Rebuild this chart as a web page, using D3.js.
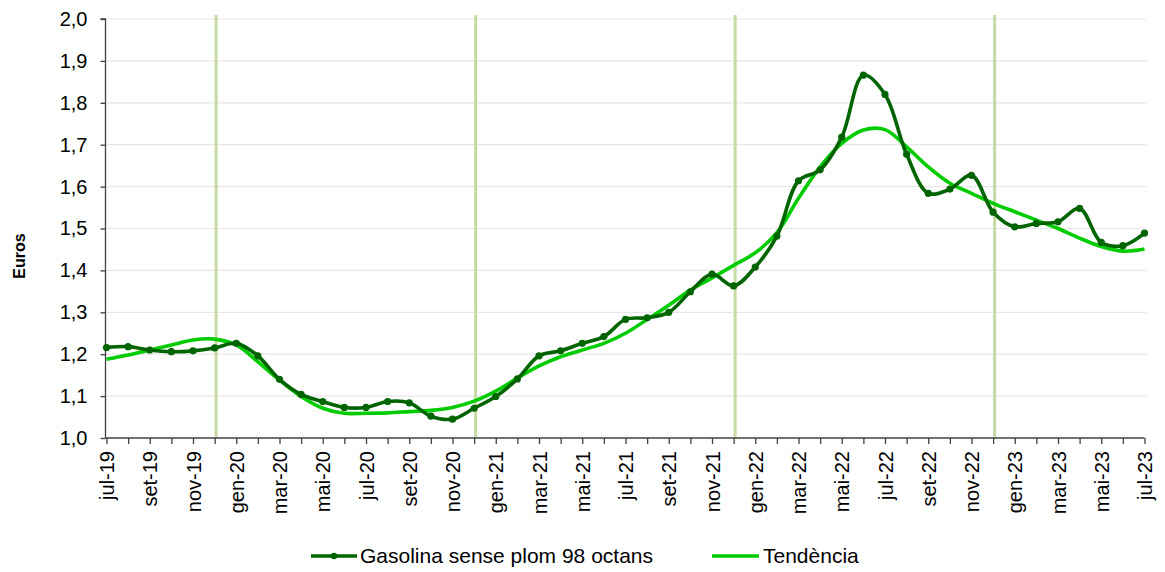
<!DOCTYPE html>
<html><head><meta charset="utf-8">
<script src="https://cdn.jsdelivr.net/npm/d3@7"></script>
<style>
body{margin:0;background:#fff;}
svg{display:block;font-family:"Liberation Sans",Arial,sans-serif;}
</style></head>
<body><svg id="c" width="1165" height="572"></svg>
<script>
const months = ["jul-19","ago-19","set-19","oct-19","nov-19","des-19","gen-20","feb-20","mar-20","abr-20","mai-20","jun-20","jul-20","ago-20","set-20","oct-20","nov-20","des-20","gen-21","feb-21","mar-21","abr-21","mai-21","jun-21","jul-21","ago-21","set-21","oct-21","nov-21","des-21","gen-22","feb-22","mar-22","abr-22","mai-22","jun-22","jul-22","ago-22","set-22","oct-22","nov-22","des-22","gen-23","feb-23","mar-23","abr-23","mai-23","jun-23","jul-23"];
const gasolina = [1.216,1.218,1.210,1.206,1.208,1.215,1.226,1.196,1.140,1.104,1.087,1.073,1.073,1.087,1.084,1.052,1.045,1.071,1.099,1.141,1.196,1.208,1.226,1.242,1.283,1.287,1.300,1.349,1.391,1.363,1.408,1.482,1.614,1.640,1.718,1.866,1.820,1.677,1.584,1.594,1.627,1.539,1.504,1.512,1.516,1.548,1.467,1.459,1.489];
const tendencia = [1.188,1.198,1.210,1.222,1.234,1.236,1.222,1.182,1.138,1.099,1.071,1.059,1.059,1.060,1.063,1.066,1.073,1.088,1.112,1.143,1.172,1.194,1.210,1.226,1.250,1.283,1.317,1.353,1.382,1.412,1.442,1.490,1.572,1.647,1.703,1.735,1.736,1.695,1.647,1.608,1.584,1.560,1.540,1.520,1.500,1.477,1.457,1.446,1.451];
const yTicks = [1.0,1.1,1.2,1.3,1.4,1.5,1.6,1.7,1.8,1.9,2.0];
const labelEvery = 2;
const yearMarkers = ["des-19","des-20","des-21","des-22"];
const seriesNames = ["Gasolina sense plom 98 octans","Tendència"];

const svg = d3.select("#c");
const L=105.5, R=1144.5, T=19, B=438;
const x = d3.scaleLinear().domain([0, months.length-1]).range([L+1,R]);
const y = d3.scaleLinear().domain([1.0,2.0]).range([B,T]);
const fmt = v => d3.format(".1f")(v).replace(".",",");
const FONT = "Liberation Sans, Arial, sans-serif";

// gridlines
svg.append("g").selectAll("line").data(yTicks.filter(v=>v>1.0)).join("line")
  .attr("x1",L).attr("x2",R+2).attr("y1",d=>y(d)).attr("y2",d=>y(d))
  .attr("stroke","#e6e6e6").attr("stroke-width",1.2);

// year marker lines
svg.append("g").selectAll("line").data(yearMarkers).join("line")
  .attr("x1",d=>x(months.indexOf(d))+1.5).attr("x2",d=>x(months.indexOf(d))+1.5)
  .attr("y1",T-4).attr("y2",B)
  .attr("stroke","#c6dba3").attr("stroke-width",3);

// y axis
const ya = svg.append("g").attr("transform",`translate(${L},0)`)
  .call(d3.axisLeft(y).tickValues(yTicks).tickFormat(fmt).tickSize(5).tickPadding(13));
ya.selectAll("path,line").attr("stroke","#404040").attr("stroke-width",1.3);
ya.select(".domain").attr("d",`M-5,${T}H0V${B}`);
ya.selectAll("text").attr("font-size",20).attr("fill","#000").attr("font-family",FONT);

// x axis
const xa = svg.append("g").attr("transform",`translate(0,${B})`)
  .call(d3.axisBottom(x).tickValues(d3.range(months.length)).tickFormat(i=> i%labelEvery===0?months[i]:"").tickSize(6).tickSizeOuter(0));
xa.selectAll("path,line").attr("stroke","#404040").attr("stroke-width",1.3);
xa.select(".domain").attr("d",`M${L},0H${R}`);
xa.selectAll("text").attr("font-size",20).attr("fill","#000").attr("font-family",FONT)
  .attr("transform","rotate(-90)").attr("text-anchor","end").attr("x",-13).attr("y",0).attr("dy","0.35em");

// y label
svg.append("text").attr("transform","translate(25,256) rotate(-90)").attr("text-anchor","middle")
  .attr("font-size",16).attr("font-weight","bold").text("Euros");

// trend
svg.append("path").datum(tendencia)
  .attr("d", d3.line().x((d,i)=>x(i)).y(d=>y(d)).curve(d3.curveCatmullRom.alpha(0.5)))
  .attr("fill","none").attr("stroke","#00cc00").attr("stroke-width",3.6);

// series
svg.append("path").datum(gasolina)
  .attr("d", d3.line().x((d,i)=>x(i)).y(d=>y(d)).curve(d3.curveCatmullRom.alpha(0.5)))
  .attr("fill","none").attr("stroke","#006400").attr("stroke-width",3.6);
svg.append("g").selectAll("circle").data(gasolina).join("circle")
  .attr("cx",(d,i)=>x(i)).attr("cy",d=>y(d)).attr("r",3.6).attr("fill","#006400");

// legend
const lg = svg.append("g").attr("font-size",21).attr("font-family",FONT);
lg.append("line").attr("x1",311).attr("x2",357).attr("y1",556).attr("y2",556).attr("stroke","#006400").attr("stroke-width",3.6);
lg.append("circle").attr("cx",334).attr("cy",556).attr("r",3.2).attr("fill","#006400");
lg.append("text").attr("x",360).attr("y",556).attr("dy","0.35em").text(seriesNames[0]);
lg.append("line").attr("x1",712).attr("x2",759).attr("y1",556).attr("y2",556).attr("stroke","#00cc00").attr("stroke-width",3.6);
lg.append("text").attr("x",763).attr("y",556).attr("dy","0.35em").text(seriesNames[1]);
</script></body></html>
